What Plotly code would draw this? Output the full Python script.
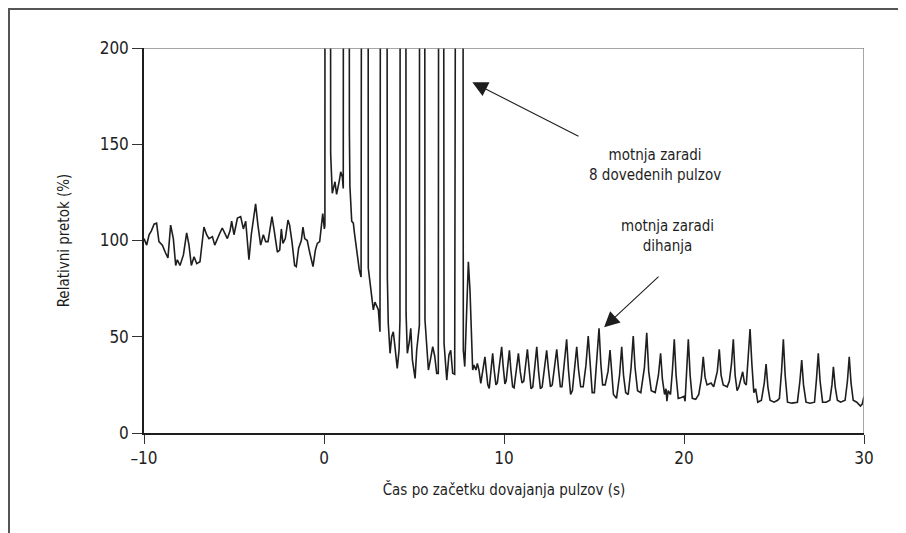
import plotly.graph_objects as go

# ---- data ----
t_base = [-10.00, -9.85, -9.72, -9.59, -9.44, -9.30, -9.17, -8.98, -8.80, -8.67, -8.52, -8.37,
          -8.24, -8.15, -8.00, -7.81, -7.63, -7.50, -7.37, -7.22, -7.07, -6.89, -6.67, -6.52,
          -6.39, -6.20, -6.07, -5.93, -5.78, -5.65, -5.52, -5.37, -5.22, -5.13, -5.00, -4.81,
          -4.63, -4.48, -4.35, -4.17, -4.04, -3.80, -3.67, -3.52, -3.37, -3.24, -3.11, -2.89,
          -2.78, -2.59, -2.46, -2.37, -2.28, -2.15, -2.00, -1.91, -1.78, -1.63, -1.54, -1.41,
          -1.26, -1.17, -1.07, -0.93, -0.80, -0.61, -0.48, -0.37, -0.24, -0.07, 0.02]
v_base = [101, 97.6, 103, 105, 108.5, 109, 99.4, 97.6, 93.5, 91, 108, 101,
          87, 90, 87, 92.5, 104, 97.6, 87, 91.6, 88, 89, 107, 103,
          101, 102, 97.6, 101, 104, 106.5, 104, 101, 105, 110, 103, 111.7,
          112.4, 106, 110, 90, 103, 119, 108, 97.6, 103, 99.4, 99.4, 112.4,
          106, 94, 95, 106, 98.5, 101, 110.6, 108, 99.4, 87, 86.4, 96,
          100, 107, 101, 100, 94, 86.4, 95, 98.5, 99.4, 114, 106]

# 8 stimulation pulses (peaks run far above the 200 % axis limit)
t_pulse = [0.05, 0.07, 0.33, 0.37, 0.46, 0.61, 0.70, 0.85, 0.93, 1.02, 1.07,
           1.11, 1.37, 1.41, 1.44, 1.54, 1.63, 1.69, 1.78, 1.85, 1.96, 2.06,
           2.15, 2.43, 2.46, 2.56, 2.65, 2.74, 2.83, 2.93, 3.02, 3.11,
           3.20, 3.44, 3.52, 3.57, 3.67, 3.76, 3.85, 3.94, 4.07, 4.17, 4.22,
           4.26, 4.52, 4.56, 4.63, 4.74, 4.82, 4.91, 5.06, 5.15, 5.24, 5.30,
           5.33, 5.56, 5.61, 5.70, 5.80, 5.93, 6.04, 6.15, 6.26, 6.35,
           6.41, 6.59, 6.67, 6.82, 6.94, 7.04, 7.15, 7.26,
           7.41, 7.68, 7.74, 7.82, 7.93, 8.02, 8.11, 8.21, 8.26, 8.33, 8.44, 8.52, 8.61, 8.71]
v_pulse = [108, 800, 800, 145, 124.5, 130.5, 124, 131, 135.7, 133, 127,
           800, 800, 157, 128, 110, 109, 104, 97, 90, 84.7, 81,
           800, 800, 85.7, 78, 70.8, 64, 68, 66, 64, 52.6,
           800, 800, 80.5, 57, 41.4, 50, 52.6, 45, 33.6, 43, 58.7,
           800, 800, 62, 41.4, 47.4, 54.4, 38, 28.4, 43, 52.6, 56,
           800, 800, 58.7, 48.3, 32.7, 39, 44.8, 40, 31, 31,
           800, 800, 46.6, 27.5, 40.5, 43, 31, 30.5,
           800, 800, 43, 34.5, 62, 89, 74.3, 48.3, 32.7, 35.3, 32.7, 36.2, 32.7, 25.8]

# breathing disturbance
t_breath = [8.80, 8.87, 8.94, 9.02, 9.10, 9.18, 9.27, 9.37, 9.45, 9.55, 9.63, 9.75, 9.87,
            9.95, 10.05, 10.12, 10.20, 10.30, 10.38, 10.48, 10.56, 10.68, 10.80, 10.90, 11.00,
            11.10, 11.20, 11.30, 11.40, 11.50, 11.60, 11.72, 11.82, 11.92, 12.02, 12.12, 12.25,
            12.37, 12.47, 12.58, 12.68, 12.80, 12.93, 13.03, 13.13, 13.22, 13.35, 13.48, 13.58,
            13.70, 13.80, 13.93, 14.04, 14.14, 14.26, 14.40, 14.55, 14.68, 14.78, 14.90, 15.02,
            15.16, 15.28, 15.38, 15.48, 15.62, 15.78, 15.89, 15.98, 16.08, 16.25, 16.42, 16.54,
            16.64, 16.76, 16.90, 17.06, 17.18, 17.28, 17.42, 17.60, 17.80, 17.93, 18.04, 18.18,
            18.40, 18.58, 18.70, 18.80, 18.92, 19.00, 19.05, 19.12, 19.25, 19.36, 19.46, 19.56,
            19.68, 19.85, 20.00, 20.06, 20.14, 20.24, 20.34, 20.46, 20.65, 20.82, 20.96, 21.07,
            21.17, 21.28, 21.50, 21.65, 21.85, 21.96, 22.06, 22.18, 22.40, 22.52, 22.64, 22.74,
            22.84, 22.95, 23.05, 23.15, 23.26, 23.36, 23.46, 23.57, 23.67, 23.77, 23.88, 23.98,
            24.10, 24.30, 24.46, 24.56, 24.66, 24.78, 25.00, 25.20, 25.30, 25.42, 25.52, 25.62,
            25.75, 26.00, 26.30, 26.44, 26.54, 26.64, 26.78, 27.00, 27.25, 27.36, 27.46, 27.56,
            27.70, 27.90, 28.10, 28.22, 28.30, 28.40, 28.52, 28.70, 28.95, 29.08, 29.18, 29.28,
            29.40, 29.60, 29.80, 29.90, 30.00]
v_breath = [31, 36, 39.6, 32, 25, 23.2, 32, 41.4, 33, 25, 26, 35, 44.8,
            35, 25.5, 27, 35, 43, 33, 24, 23.5, 32, 41.4, 32, 26,
            27, 35, 43.5, 33, 23, 24, 34, 44.8, 32, 23, 24, 33,
            43, 33, 24, 25, 34, 43.5, 33, 24, 24, 35, 48.7, 33,
            20, 22, 33, 44.8, 33, 24, 24, 35, 50.4, 35, 21, 21,
            38, 54.4, 36, 25, 25, 32, 43.1, 30, 20, 18, 30, 44.8,
            30, 21, 20, 34, 50.4, 34, 22, 21, 34, 52.1, 32, 22,
            21, 30, 41.4, 28, 20, 23, 16.5, 22, 20, 33, 48.7, 30,
            18, 18.5, 19, 16.5, 30, 48.7, 30, 18, 17.5, 20, 28, 39.6,
            29, 25, 26, 24, 32, 43.5, 30, 25, 24, 27, 36, 48.7,
            30, 22, 24, 28, 31.8, 26, 25, 40, 54, 36, 21, 23,
            16, 17, 26, 35.8, 24, 17, 16, 17, 18, 32, 48.7, 30,
            16, 15.5, 16, 27, 37.9, 25, 16, 15.5, 16, 28, 41.4, 27,
            16, 16, 17, 25, 34.4, 24, 17, 16, 17, 27, 39.6, 26,
            17, 16, 14, 15, 19]

x_ticks = [-10, 0, 10, 20, 30]
x_ticktext = ["\u201310", "0", "10", "20", "30"]
y_ticks = [0, 50, 100, 150, 200]

t_all = t_base + t_pulse + t_breath
v_all = v_base + v_pulse + v_breath

FONT = "DejaVu Sans Condensed, Liberation Sans Narrow, sans-serif"

fig = go.Figure()
fig.add_trace(go.Scatter(x=t_all, y=v_all, mode="lines",
                         line=dict(color="#1e1e1e", width=1.6), hoverinfo="skip"))

# page body has an 8px margin: figure is sized/offset to land the plot at 144..864 x 48..433
fig.update_layout(
    width=898, height=525,
    margin=dict(l=136, r=42, t=40, b=100),
    paper_bgcolor="white", plot_bgcolor="white",
    showlegend=False,
    font=dict(family=FONT, color="#1e1e1e", size=15),
    xaxis=dict(range=[-10, 30], tickvals=x_ticks, ticktext=x_ticktext,
               ticks="outside", ticklen=9, tickwidth=1.2, tickcolor="#333",
               showline=True, linecolor="#1e1e1e", linewidth=1.5,
               showgrid=False, zeroline=False,
               tickfont=dict(family=FONT, size=17),
               title=dict(text="Čas po začetku dovajanja pulzov (s)",
                          font=dict(family=FONT, size=15), standoff=17)),
    yaxis=dict(range=[0, 200], tickvals=y_ticks,
               ticks="outside", ticklen=10, tickwidth=1.2, tickcolor="#333",
               showline=True, linecolor="#1e1e1e", linewidth=1.5,
               showgrid=False, zeroline=False,
               tickfont=dict(family=FONT, size=17),
               title=dict(text="Relativni pretok (%)",
                          font=dict(family=FONT, size=15), standoff=26)),
)

# gray top and right frame of the plot area
fig.add_shape(type="line", xref="x", yref="y", x0=-10, x1=30, y0=200, y1=200,
              line=dict(color="#888", width=1.5))
fig.add_shape(type="line", xref="x", yref="y", x0=30, x1=30, y0=0, y1=200,
              line=dict(color="#888", width=1.5))
# outer figure border
fig.add_shape(type="rect", xref="paper", yref="paper", x0=-0.1875, x1=1.3, y0=-0.5, y1=1.1013,
              line=dict(color="#555", width=2), layer="below")

fig.add_annotation(x=8.24, y=182.2, ax=14.22, ay=153.8, xref="x", yref="y", axref="x", ayref="y",
                   text="", showarrow=True, arrowhead=2, arrowsize=2.8, arrowwidth=1.1,
                   arrowcolor="#1e1e1e", standoff=0)
fig.add_annotation(x=15.56, y=54.9, ax=18.67, ay=82, xref="x", yref="y", axref="x", ayref="y",
                   text="", showarrow=True, arrowhead=2, arrowsize=2.8, arrowwidth=1.1,
                   arrowcolor="#1e1e1e", standoff=0)
fig.add_annotation(x=18.39, y=139.2, xref="x", yref="y", showarrow=False,
                   text="motnja zaradi<br>8 dovedenih pulzov", align="center",
                   font=dict(family=FONT, size=15))
fig.add_annotation(x=19.06, y=102.3, xref="x", yref="y", showarrow=False,
                   text="motnja zaradi<br>dihanja", align="center",
                   font=dict(family=FONT, size=15))

fig.write_html("out.html")
